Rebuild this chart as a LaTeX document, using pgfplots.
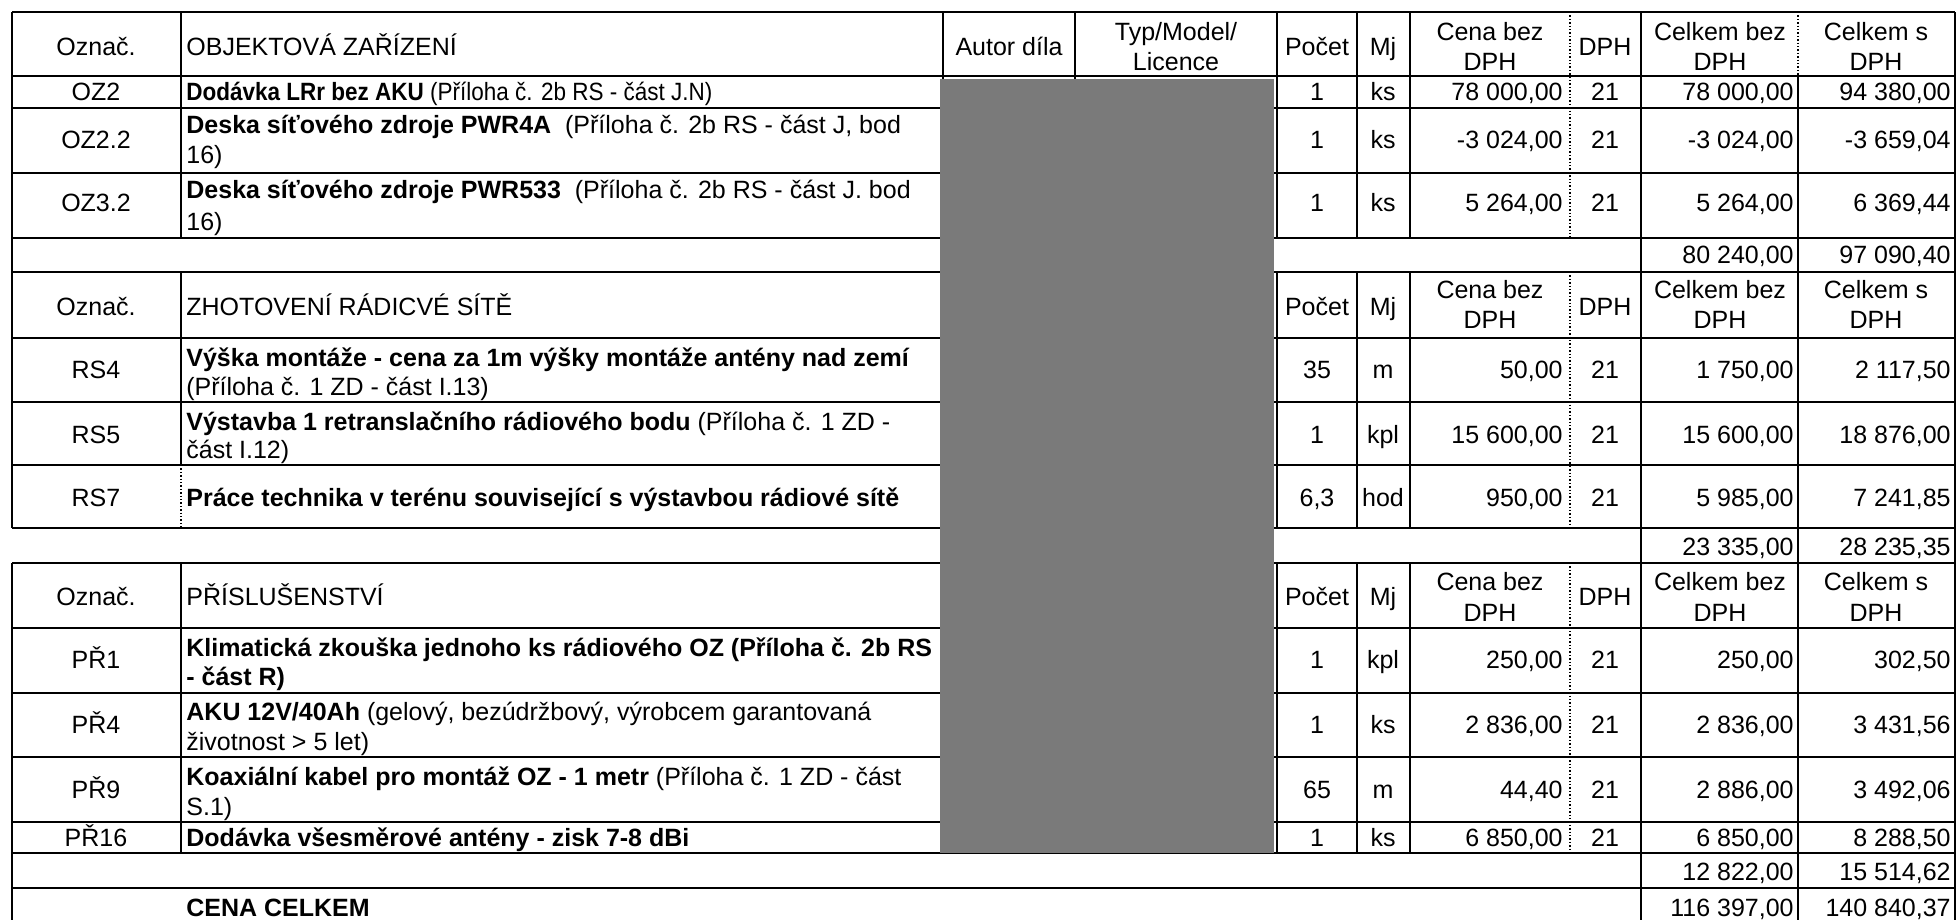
\documentclass[border=0pt]{standalone}
\usepackage{graphicx}
\usepackage{pgfplots}
\pgfplotsset{compat=1.18}
\usepackage{fontspec}
\setmainfont{Liberation Sans}
% text placement in pixel coordinates of the 1957x920 sheet (y downwards, value = baseline)
\newcommand{\tl}[3]{\node[anchor=base west] at (axis cs:#1,#2) {#3};}
\newcommand{\tc}[3]{\node[anchor=base] at (axis cs:#1,#2) {#3};}
\newcommand{\tr}[3]{\node[anchor=base east] at (axis cs:#1,#2) {#3};}
\newcommand{\hdr}[3]{\tc{96}{#1}{Označ.}\tc{1317}{#1}{Počet}\tc{1383}{#1}{Mj}%
  \tc{1490}{#2}{Cena bez}\tc{1490}{#3}{DPH}\tc{1605}{#1}{DPH}%
  \tc{1720}{#2}{Celkem bez}\tc{1720}{#3}{DPH}\tc{1876}{#2}{Celkem s}\tc{1876}{#3}{DPH}}
\newcommand{\row}[8]{\tc{96}{#1}{#2}\tc{1317}{#1}{#3}\tc{1383}{#1}{#4}\tr{1563}{#1}{#5}%
  \tc{1605}{#1}{#6}\tr{1794}{#1}{#7}\tr{1951}{#1}{#8}}
\newcommand{\sub}[3]{\tr{1794}{#1}{#2}\tr{1951}{#1}{#3}}
\newcommand{\hl}[2]{\draw[line width=#2] (axis cs:12,#1) -- (axis cs:1955,#1);}
\newcommand{\vl}[3]{\draw[line width=0.8pt] (axis cs:#1,#2) -- (axis cs:#1,#3);}
\newcommand{\vd}[3]{\draw[line width=0.7pt, densely dotted] (axis cs:#1,#2) -- (axis cs:#1,#3);}
\begin{document}
\begin{tikzpicture}[every node/.style={inner sep=0pt, font=\fontsize{12.5}{15}\selectfont}]
\begin{axis}[scale only axis, width=978.5pt, height=460pt,
  xmin=0, xmax=1957, ymin=0, ymax=920, y dir=reverse,
  axis lines=none, clip=false]
\addplot[draw=none] coordinates {(0,0) (1957,920)};
% ---------------- horizontal rules
\hl{12}{1.3pt}\hl{76}{1.3pt}\hl{108}{0.9pt}\hl{173}{0.9pt}\hl{238}{0.9pt}
\hl{272}{1.3pt}\hl{338}{1.3pt}\hl{402}{0.9pt}\hl{465}{0.9pt}\hl{528}{0.9pt}
\hl{563}{1.3pt}\hl{628}{1.3pt}\hl{693}{0.9pt}\hl{757}{0.9pt}\hl{822}{0.9pt}
\hl{853}{1.3pt}\hl{888}{1.3pt}
% ---------------- vertical rules
\vl{12}{12}{528}\vl{12}{563}{920}
\vl{1955}{12}{920}\vl{1641}{12}{920}\vd{1798}{12}{76}\vl{1798}{76}{920}
\vl{181}{12}{238}\vl{181}{272}{465}\vd{181}{465}{528}\vl{181}{563}{853}
\vl{943}{12}{853}\vl{1075}{12}{853}
\vl{1277}{12}{238}\vl{1277}{272}{528}\vl{1277}{563}{853}
\vl{1357}{12}{238}\vl{1357}{272}{528}\vl{1357}{563}{853}
\vl{1410}{12}{238}\vl{1410}{272}{528}\vl{1410}{563}{853}
\vd{1570}{12}{238}\vd{1570}{272}{528}\vd{1570}{563}{853}
% ---------------- section 1
\hdr{55}{40}{70}
\tl{186}{55}{OBJEKTOVÁ ZAŘÍZENÍ}
\tc{1009}{55}{Autor díla}
\tc{1176}{40}{Typ/Model/}\tc{1176}{70}{Licence}
\row{100}{OZ2}{1}{ks}{78 000,00}{21}{78 000,00}{94 380,00}
\tl{186}{100}{\scalebox{0.9}[1]{\textbf{Dodávka LRr bez AKU} (Příloha č. 2b RS - část J.N)}}
\row{148}{OZ2.2}{1}{ks}{-3 024,00}{21}{-3 024,00}{-3 659,04}
\tl{186}{133}{\textbf{Deska síťového zdroje PWR4A}\ \ (Příloha č. 2b RS - část J, bod}
\tl{186}{163}{16)}
\row{211}{OZ3.2}{1}{ks}{5 264,00}{21}{5 264,00}{6 369,44}
\tl{186}{198}{\textbf{Deska síťového zdroje PWR533}\ \ (Příloha č. 2b RS - část J. bod}
\tl{186}{230}{16)}
\sub{263}{80 240,00}{97 090,40}
% ---------------- section 2
\hdr{315}{298}{328}
\tl{186}{315}{ZHOTOVENÍ RÁDICVÉ SÍTĚ}
\row{378}{RS4}{35}{m}{50,00}{21}{1 750,00}{2 117,50}
\tl{186}{366}{\textbf{Výška montáže - cena za 1m výšky montáže antény nad zemí}}
\tl{186}{395}{(Příloha č. 1 ZD - část I.13)}
\row{443}{RS5}{1}{kpl}{15 600,00}{21}{15 600,00}{18 876,00}
\tl{186}{430}{\textbf{Výstavba 1 retranslačního rádiového bodu} (Příloha č. 1 ZD -}
\tl{186}{458}{část I.12)}
\row{506}{RS7}{6,3}{hod}{950,00}{21}{5 985,00}{7 241,85}
\tl{186}{506}{\textbf{Práce technika v terénu související s výstavbou rádiové sítě}}
\sub{555}{23 335,00}{28 235,35}
% ---------------- section 3
\hdr{605}{590}{621}
\tl{186}{605}{PŘÍSLUŠENSTVÍ}
\row{668}{PŘ1}{1}{kpl}{250,00}{21}{250,00}{302,50}
\tl{186}{656}{\textbf{Klimatická zkouška jednoho ks rádiového OZ (Příloha č. 2b RS}}
\tl{186}{685}{\textbf{- část R)}}
\row{733}{PŘ4}{1}{ks}{2 836,00}{21}{2 836,00}{3 431,56}
\tl{186}{720}{\textbf{AKU 12V/40Ah} (gelový, bezúdržbový, výrobcem garantovaná}
\tl{186}{750}{životnost > 5 let)}
\row{798}{PŘ9}{65}{m}{44,40}{21}{2 886,00}{3 492,06}
\tl{186}{785}{\textbf{Koaxiální kabel pro montáž OZ - 1 metr} (Příloha č. 1 ZD - část}
\tl{186}{815}{S.1)}
\row{846}{PŘ16}{1}{ks}{6 850,00}{21}{6 850,00}{8 288,50}
\tl{186}{846}{\textbf{Dodávka všesměrové antény - zisk 7-8 dBi}}
\sub{880}{12 822,00}{15 514,62}
% ---------------- grand total
\tl{186}{916}{\textbf{CENA CELKEM}}
\sub{916}{116 397,00}{140 840,37}
% ---------------- redacted block
\fill[black!52] (axis cs:940,79) rectangle (axis cs:1274,853);
\end{axis}
\end{tikzpicture}
\end{document}
